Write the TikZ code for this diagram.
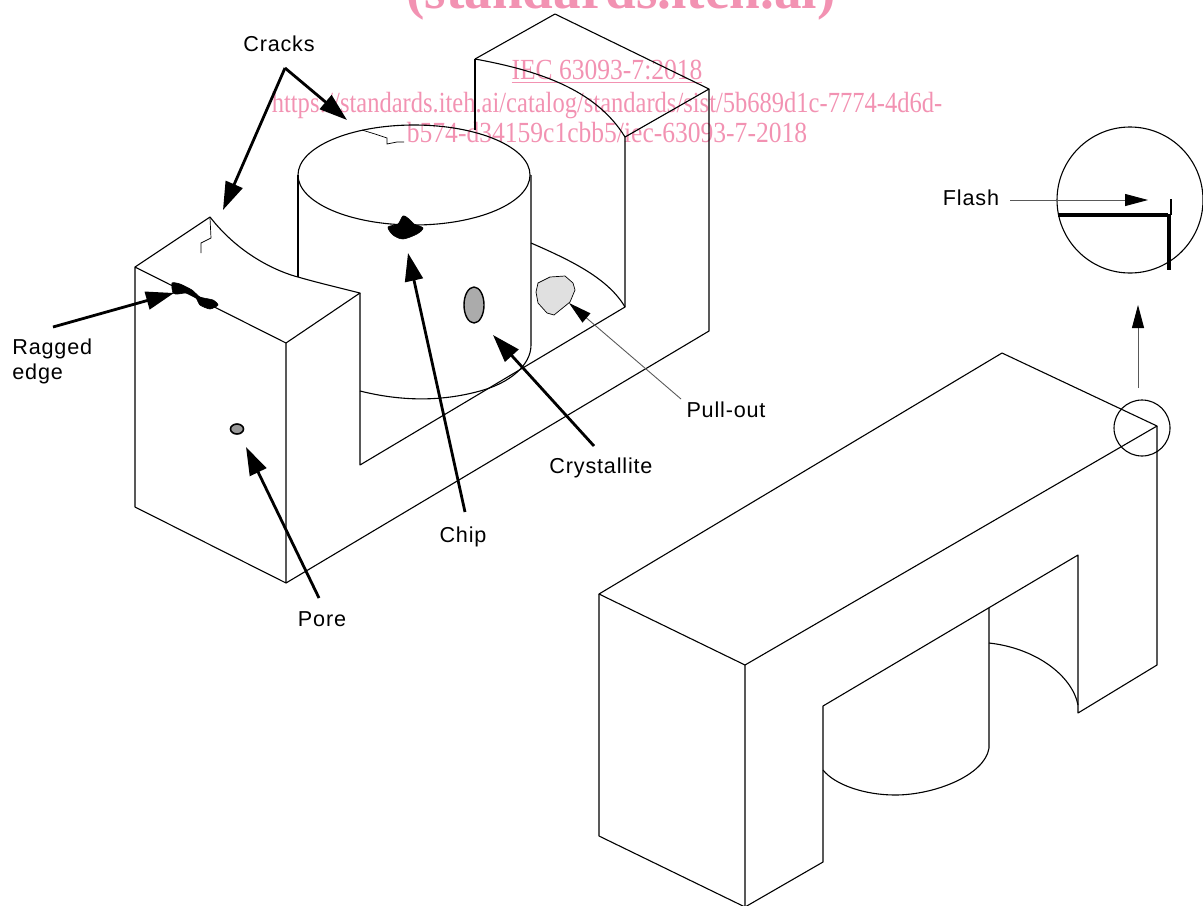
\documentclass[tikz,border=0pt]{standalone}
\usepackage{fontspec}
\setmainfont[LetterSpace=3.8]{Liberation Sans}
\newfontfamily\wmfont[FakeStretch=0.84]{Liberation Serif}
\newfontfamily\wmwidefont[FakeStretch=0.875]{Liberation Serif}
\newfontfamily\wmboldfont{Liberation Serif}
\usetikzlibrary{arrows.meta}
\definecolor{wm}{HTML}{F292B2}
\tikzset{
  edge/.style={draw=black,line width=0.55pt,line join=round},
  fine/.style={draw=black,line width=0.35pt},
  bigarrow/.style={draw=black,line width=1.4pt,-{Triangle[length=14pt,width=9pt]}},
  thinarrow/.style={draw=black!65,line width=0.45pt,-{Triangle[length=11.5pt,width=6pt,fill=black,color=black]}},
  lab/.style={font=\fontsize{10.8}{12}\selectfont,text=black,inner sep=0pt},
  wmark/.style={font=\wmfont\fontsize{14.6}{16}\selectfont,text=wm,inner sep=0pt},
  wmarkwide/.style={font=\wmwidefont\fontsize{14.6}{16}\selectfont,text=wm,inner sep=0pt},
  blob/.style={fill=black,draw=black,line width=0.3pt},
}
\begin{document}
\begin{tikzpicture}[x=0.5pt,y=-0.5pt]
\useasboundingbox (0,0) rectangle (1203,905);
\clip (0,0) rectangle (1203,905);
% watermark
\node[wmark,font={\wmboldfont\bfseries\fontsize{27.6}{30}\selectfont},anchor=base] (wm0) at (621,8) {(standards.iteh.ai)};
\node[wmarkwide,anchor=base] (wm1) at (607,79) {\underline{IEC 63093-7:2018}};
\node[wmark,anchor=base] (wm2) at (607,112) {https://standards.iteh.ai/catalog/standards/sist/5b689d1c-7774-4d6d-};
\node[wmarkwide,anchor=base] (wm3) at (607,142) {b574-d34159c1cbb5/iec-63093-7-2018};

% left core
\coordinate (a) at (135,267);
\coordinate (b) at (286,343);
\coordinate (c) at (135,507);
\coordinate (d) at (286,583);
\coordinate (e) at (210,217);
\coordinate (f) at (360,293);
\coordinate (g) at (360,465);
\coordinate (h) at (625,307);
\coordinate (i) at (625,137);
\coordinate (j) at (709,89);
\coordinate (k) at (709,331);
\coordinate (l) at (555,14);
\coordinate (m) at (475,59);
\draw[edge] (a)--(b)--(d)--(c)--cycle;
\draw[edge] (a)--(e) .. controls (245,262) and (290,275) .. (298,277) .. controls (315,282) and (340,288) .. (f)--(b);
\draw[edge] (f)--(g)--(h)--(i);
\draw[edge] (d)--(k)--(j)--(l)--(m);
\draw[edge] (j)--(i) .. controls (595,88) and (535,70) .. (m);
\draw[edge] (m)--(475,130);
% cylinder
\draw[edge] (414,175) ellipse [x radius=116,y radius=50];
\draw[edge] (298,175)--(298,277);
\draw[edge] (531,175)--(531,345) .. controls (531,365) and (510,383) .. (480,391) .. controls (440,402) and (400,401) .. (360,391);
\draw[edge] (531,243) .. controls (570,260) and (608,278) .. (h);
% defects
\draw[fine] (362,130) -- (375,134) -- (387,138) -- (387,144) -- (397,142) -- (404,142);
\draw[fine] (210,218) -- (211,238) -- (201,243) -- (201,253);
\path[blob] plot[smooth cycle,tension=0.5] coordinates {(388,227) (398,224) (403,216) (409,219) (414,224) (423,228) (417,234) (403,239) (393,235)};
\path[blob] plot[smooth cycle,tension=0.4] coordinates {(172,283) (180,284) (192,290) (200,297) (213,300) (218,305) (210,309) (200,305) (196,298) (187,293) (178,294) (173,293)};
\draw[fill=black!33,line width=0.7pt] (474,305) ellipse [x radius=10,y radius=18];
\draw[fill=black!40,line width=0.8pt] (237,429) ellipse [x radius=6.5,y radius=5];
\draw[fine,fill=black!12] (536,292) -- (538,283) -- (550,277) -- (565,276) -- (573,283) -- (575,290) -- (570,302) -- (554,315) -- (547,313) -- (538,303) -- cycle;

% right core
\coordinate (A) at (1002,353);
\coordinate (B) at (1157,426);
\coordinate (C) at (745,665);
\coordinate (D) at (599,594);
\coordinate (E) at (599,836);
\coordinate (F) at (745,907);
\coordinate (G) at (823,862);
\coordinate (H) at (823,706);
\coordinate (I) at (1078,555);
\coordinate (J) at (1078,713);
\coordinate (K) at (1157,665);
\coordinate (L) at (989,608);
\coordinate (M) at (989,748);
\coordinate (N) at (989,643);
\draw[edge] (A)--(B)--(C)--(D)--cycle;
\draw[edge] (D)--(E)--(F)--(C);
\draw[edge] (F)--(G)--(H)--(I)--(J)--(K)--(B);
\draw[edge] (L)--(M) .. controls (985,775) and (935,795) .. (895,795) .. controls (865,795) and (835,785) .. (823,770);
\draw[edge] (N) .. controls (1035,648) and (1072,675) .. (1078,705);
\draw[edge] (1142,428) circle [radius=28];
\draw[edge] (1130,200) circle [radius=73];
\draw[black,line width=1.7pt] (1058,215)--(1168,215);
\draw[black,line width=1.7pt] (1169,214)--(1169,270);
\draw[black,line width=0.6pt] (1171,199)--(1171,215);

% labels
\node[lab] (cracks) at (279,44) {Cracks};
\node[lab] (flash) at (971,198) {Flash};
\node[lab,anchor=north west,align=left,font=\fontsize{10.8}{12.5}\selectfont] (ragged) at (12,338) {Ragged\\edge};
\node[lab] (pullout) at (726,410) {Pull-out};
\node[lab] (crystallite) at (601,468) {Crystallite};
\node[lab] (chip) at (463,537) {Chip};
\node[lab] (pore) at (322,619) {Pore};

% arrows
\coordinate (cr0) at (285,68);
\coordinate (cr1) at (223,210);
\coordinate (cr2) at (347,120);
\draw[bigarrow] (cr0)--(cr1);
\draw[bigarrow] (cr0)--(cr2);
\coordinate (ra0) at (53,327);
\coordinate (ra1) at (174,293);
\draw[bigarrow] (ra0)--(ra1);
\coordinate (ch0) at (465,512);
\coordinate (ch1) at (408,253);
\draw[bigarrow] (ch0)--(ch1);
\coordinate (cy0) at (594,446);
\coordinate (cy1) at (493,335);
\draw[bigarrow] (cy0)--(cy1);
\coordinate (po0) at (319,598);
\coordinate (po1) at (246,447);
\draw[bigarrow] (po0)--(po1);
\coordinate (pu0) at (681,399);
\coordinate (pu1) at (569,303);
\draw[thinarrow] (pu0)--(pu1);
\coordinate (fl0) at (1010,200);
\coordinate (fl1) at (1148,200);
\draw[thinarrow] (fl0)--(fl1);
\coordinate (up0) at (1138,388);
\coordinate (up1) at (1138,305);
\draw[thinarrow] (up0)--(up1);
\end{tikzpicture}
\end{document}
